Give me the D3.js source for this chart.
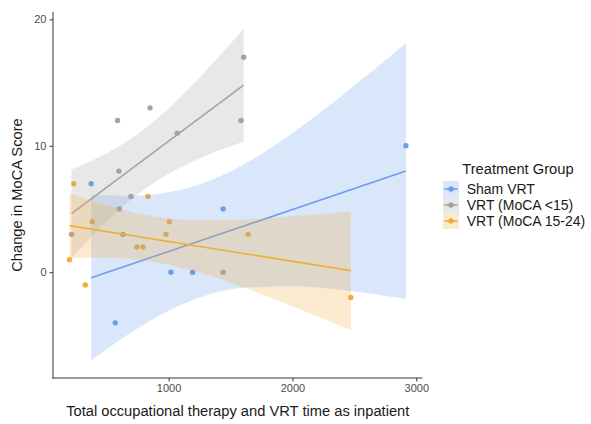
<!DOCTYPE html>
<html>
<head>
<meta charset="utf-8">
<script src="https://cdn.jsdelivr.net/npm/d3@7/dist/d3.min.js"></script>
<style>
  html, body { margin: 0; padding: 0; background: #ffffff; }
  svg { display: block; font-family: "Liberation Sans", Arial, Helvetica, sans-serif; }
</style>
</head>
<body>
<svg id="chart" width="591" height="424"></svg>
<script>
// ---------------- data ----------------
const groups = ["Sham VRT", "VRT (MoCA <15)", "VRT (MoCA 15-24)"];
const groupColors = ["#6d9eeb", "#a3a3a3", "#f0ad3c"];

const shamX = [375, 569, 1019, 1194, 1440, 2916];
const shamY = [7, -4, 0, 0, 5, 10];

const lowX = [216, 599, 601, 588, 631, 696, 850, 1070, 1440, 1585, 1606];
const lowY = [3, 8, 5, 12, 3, 6, 13, 11, 0, 12, 17];

const midX = [200, 235, 327, 383, 744, 793, 833, 979, 1006, 1642, 2471];
const midY = [1, 7, -1, 4, 2, 2, 6, 3, 4, 3, -2];

// fitted lines: [x, y] endpoints
const shamFit = [[375, -0.43], [2916, 8.0]];
const lowFit = [[216, 4.63], [1606, 14.8]];
const midFit = [[200, 3.69], [2471, 0.13]];

// confidence bands: x, lower, upper
const shamBandX = [375, 700, 1000, 1252, 1600, 2000, 2400, 2916];
const shamBandLo = [-6.98, -4.74, -3.04, -2.00, -1.23, -1.10, -1.40, -2.11];
const shamBandHi = [6.12, 6.04, 6.32, 6.96, 8.49, 11.02, 13.98, 18.11];

const lowBandX = [216, 400, 600, 780, 1000, 1200, 1400, 1606];
const lowBandLo = [1.13, 3.04, 4.92, 6.38, 7.79, 8.78, 9.60, 10.35];
const lowBandHi = [8.13, 8.92, 9.96, 11.14, 12.95, 14.88, 16.98, 19.25];

const midBandX = [200, 500, 874, 1200, 1600, 2000, 2471];
const midBandLo = [1.12, 1.15, 0.83, 0.11, -1.17, -2.68, -4.57];
const midBandHi = [6.26, 5.29, 4.43, 4.13, 4.17, 4.42, 4.83];

const xTicks = [1000, 2000, 3000];
const yTicks = [0, 10, 20];

const xTitle = "Total occupational therapy and VRT time as inpatient";
const yTitle = "Change in MoCA Score";
const legendTitle = "Treatment Group";

// ---------------- build ----------------
const series = [
  { xs: shamX, ys: shamY, fit: shamFit, bx: shamBandX, lo: shamBandLo, hi: shamBandHi },
  { xs: lowX, ys: lowY, fit: lowFit, bx: lowBandX, lo: lowBandLo, hi: lowBandHi },
  { xs: midX, ys: midY, fit: midFit, bx: midBandX, lo: midBandLo, hi: midBandHi }
].map((s, i) => ({ ...s, name: groups[i], color: groupColors[i] }));

const svg = d3.select("#chart");
const plot = { left: 53, right: 422.5, top: 12, bottom: 378 };

const x = d3.scaleLinear().domain([66.7, 3050]).range([plot.left, plot.right]);
const y = d3.scaleLinear().domain([-8.36, 20.58]).range([plot.bottom, plot.top]);

const g = svg.append("g");

// points first
series.forEach(s => {
  g.append("g").selectAll("circle")
    .data(s.xs.map((v, i) => [v, s.ys[i]]))
    .join("circle")
    .attr("cx", d => x(d[0]))
    .attr("cy", d => y(d[1]))
    .attr("r", 2.7)
    .attr("fill", s.color);
});

// ribbons + lines per group
const area = d3.area()
  .x(d => x(d.x)).y0(d => y(d.lo)).y1(d => y(d.hi))
  .curve(d3.curveMonotoneX);
const line = d3.line().x(d => x(d[0])).y(d => y(d[1]));

series.forEach(s => {
  const band = s.bx.map((v, i) => ({ x: v, lo: s.lo[i], hi: s.hi[i] }));
  g.append("path").attr("d", area(band))
    .attr("fill", s.color).attr("fill-opacity", 0.25);
  g.append("path").attr("d", line(s.fit))
    .attr("fill", "none").attr("stroke", s.color).attr("stroke-width", 1.6);
});

// axes
const axisColor = "#4d4d4d";
const xAxis = svg.append("g").attr("transform", `translate(0,${plot.bottom})`)
  .call(d3.axisBottom(x).tickValues(xTicks).tickSize(3.5).tickPadding(3).tickFormat(d3.format("d")));
const yAxis = svg.append("g").attr("transform", `translate(${plot.left},0)`)
  .call(d3.axisLeft(y).tickValues(yTicks).tickSize(3.5).tickPadding(3).tickFormat(d3.format("d")));

[xAxis, yAxis].forEach(a => {
  a.select(".domain").remove();
  a.selectAll(".tick line").attr("stroke", "#333").attr("stroke-width", 1);
  a.selectAll(".tick text").attr("fill", axisColor).attr("font-size", 11)
    .attr("font-family", "Liberation Sans, Arial, sans-serif");
});
svg.append("line").attr("x1", plot.left).attr("x2", plot.left)
  .attr("y1", plot.top).attr("y2", plot.bottom + 0.5)
  .attr("stroke", "#333").attr("stroke-width", 1);
svg.append("line").attr("x1", plot.left - 0.5).attr("x2", plot.right)
  .attr("y1", plot.bottom).attr("y2", plot.bottom)
  .attr("stroke", "#333").attr("stroke-width", 1);

// axis titles
svg.append("text")
  .attr("x", (plot.left + plot.right) / 2).attr("y", 416)
  .attr("text-anchor", "middle").attr("font-size", 14.7).attr("fill", "#1a1a1a")
  .text(xTitle);
svg.append("text")
  .attr("transform", `translate(21.5,${(plot.top + plot.bottom) / 2}) rotate(-90)`)
  .attr("text-anchor", "middle").attr("font-size", 14.7).attr("fill", "#1a1a1a")
  .text(yTitle);

// legend
const leg = svg.append("g").attr("transform", "translate(443,181)");
leg.append("text").attr("x", 19.3).attr("y", -7)
  .attr("font-size", 14.7).attr("fill", "#1a1a1a").text(legendTitle);
const keySize = 16;
series.forEach((s, i) => {
  const k = leg.append("g").attr("transform", `translate(0,${i * keySize})`);
  k.append("rect").attr("width", keySize).attr("height", keySize)
    .attr("fill", s.color).attr("fill-opacity", 0.25);
  k.append("line").attr("x1", 1.5).attr("x2", keySize - 1.5)
    .attr("y1", keySize / 2).attr("y2", keySize / 2)
    .attr("stroke", s.color).attr("stroke-width", 1.6);
  k.append("circle").attr("cx", keySize / 2).attr("cy", keySize / 2).attr("r", 2.7)
    .attr("fill", s.color);
  k.append("text").attr("x", 23.7).attr("y", keySize / 2)
    .attr("dy", "0.35em").attr("font-size", 14).attr("fill", "#1a1a1a").text(s.name);
});
</script>
</body>
</html>
